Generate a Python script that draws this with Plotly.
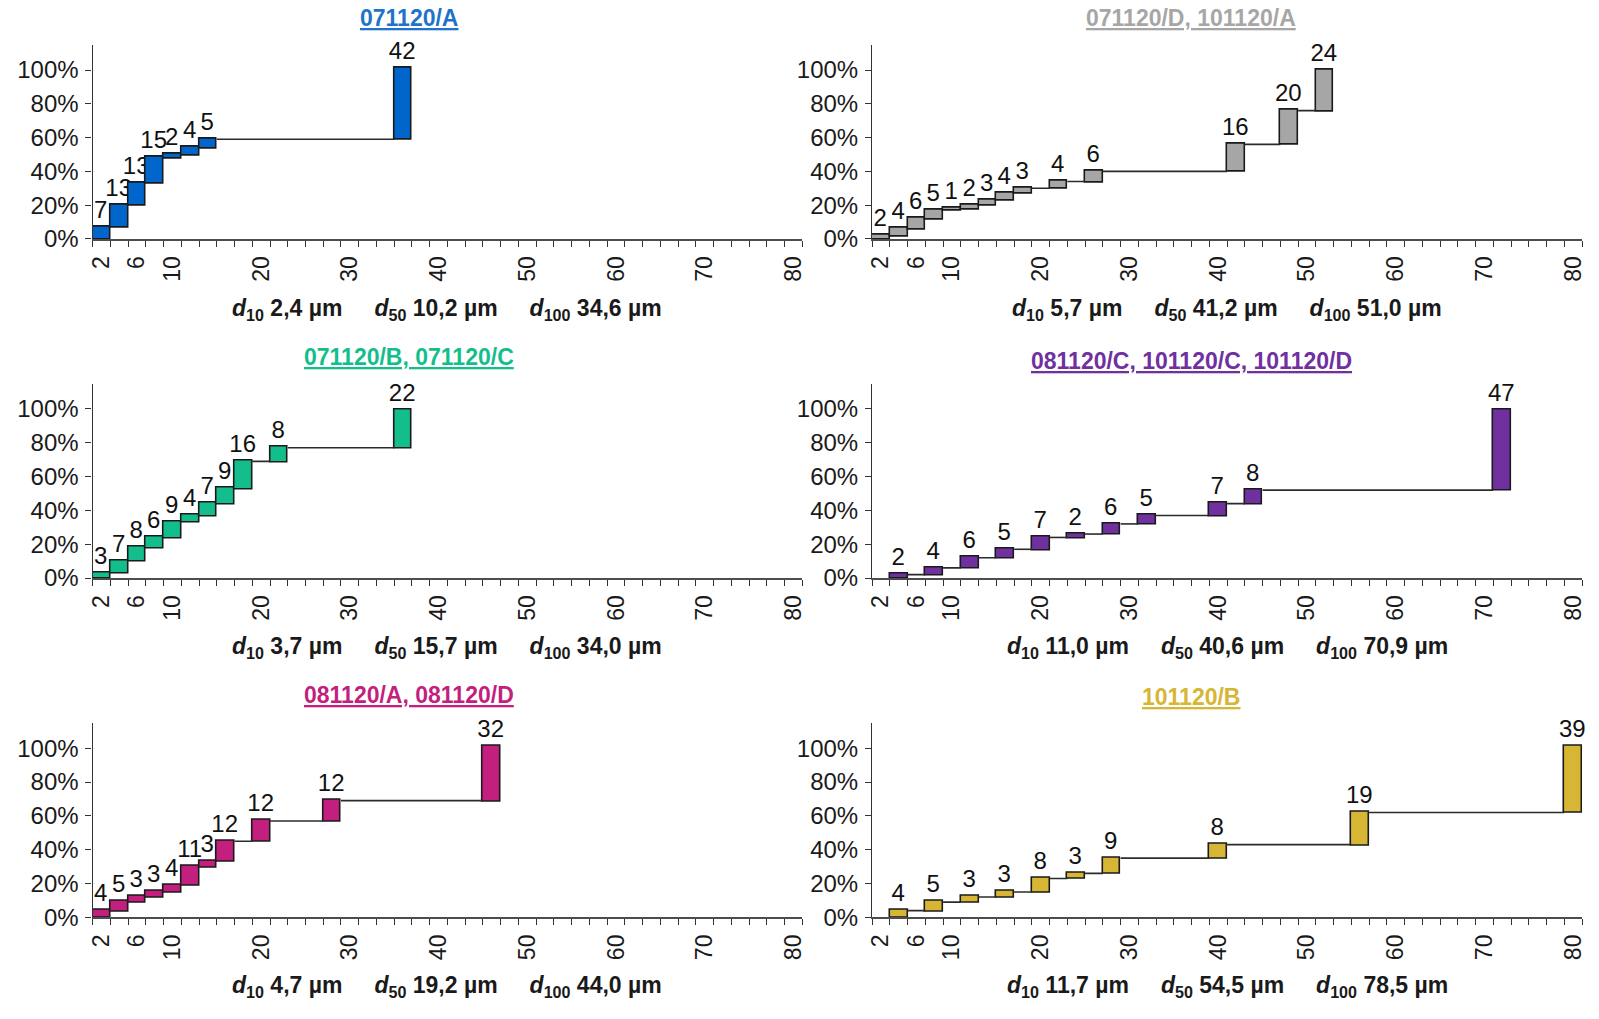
import plotly.graph_objects as go

FONT = "Liberation Sans, Arial, sans-serif"

# Particle size bins (µm, upper bound of each 2 µm class) and share of each bin (%)
bins_a = [2, 4, 6, 8, 10, 12, 14, 36]
pct_a = [7, 13, 13, 15, 2, 4, 5, 42]

bins_b = [2, 4, 6, 8, 10, 12, 14, 16, 18, 22, 26, 42, 48, 52]
pct_b = [2, 4, 6, 5, 1, 2, 3, 4, 3, 4, 6, 16, 20, 24]

bins_c = [2, 4, 6, 8, 10, 12, 14, 16, 18, 22, 36]
pct_c = [3, 7, 8, 6, 9, 4, 7, 9, 16, 8, 22]

bins_d = [4, 8, 12, 16, 20, 24, 28, 32, 40, 44, 72]
pct_d = [2, 4, 6, 5, 7, 2, 6, 5, 7, 8, 47]

bins_e = [2, 4, 6, 8, 10, 12, 14, 16, 20, 28, 46]
pct_e = [4, 5, 3, 3, 4, 11, 3, 12, 12, 12, 32]

bins_f = [4, 8, 12, 16, 20, 24, 28, 40, 56, 80]
pct_f = [4, 5, 3, 3, 8, 3, 9, 8, 19, 39]

titles = ["071120/A", "071120/D, 101120/A", "071120/B, 071120/C",
          "081120/C, 101120/C, 101120/D", "081120/A, 081120/D", "101120/B"]
colors = ["#0066CC", "#A6A6A6", "#14BE8C", "#7030A0", "#C21F7F", "#D6B634"]
title_colors = ["#1F73C8", "#A6A6A6", "#14BE8C", "#7030A0", "#C21F7F", "#D6B634"]

d10 = ["2,4", "5,7", "3,7", "11,0", "4,7", "11,7"]
d50 = ["10,2", "41,2", "15,7", "40,6", "19,2", "54,5"]
d100 = ["34,6", "51,0", "34,0", "70,9", "44,0", "78,5"]

x_tick_vals = [2, 6, 10, 20, 30, 40, 50, 60, 70, 80]
y_tick_vals = [0, 20, 40, 60, 80, 100]
y_tick_text = [f"{v}%" for v in y_tick_vals]

panels = [(bins_a, pct_a), (bins_b, pct_b), (bins_c, pct_c),
          (bins_d, pct_d), (bins_e, pct_e), (bins_f, pct_f)]

W, H = 1599, 1019
x_domains = [[88 / W, 802 / W], [872 / W, 1586 / W]]
y_domains = [[1 - 242 / H, 1 - 45.3 / H],
             [1 - 585.5 / H, 1 - 388.5 / H],
             [1 - 929.2 / H, 1 - 732.2 / H]]
title_y = [(18.5, 18.5), (362, 366), (704, 706)]
note_y = [313, 656, 999.5]
title_x = [406, 1193]

fig = go.Figure()
annotations = []
layout = dict()

for i, (bins, pct) in enumerate(panels):
    row, col = divmod(i, 2)
    n = i + 1
    xa = "x" if n == 1 else f"x{n}"
    ya = "y" if n == 1 else f"y{n}"

    fig.add_trace(go.Waterfall(
        x=bins,
        y=pct,
        measure=["relative"] * len(pct),
        width=[2] * len(pct),
        text=[str(v) for v in pct],
        textinfo="text",
        textposition="outside",
        constraintext="none",
        cliponaxis=False,
        textfont=dict(family=FONT, size=24, color="#111111"),
        increasing=dict(marker=dict(color=colors[i],
                                    line=dict(color="#1A1A1A", width=1.6))),
        connector=dict(mode="between", line=dict(color="#2B2B2B", width=1.6)),
        hoverinfo="skip",
        xaxis=xa,
        yaxis=ya,
        showlegend=False,
    ))

    layout["xaxis" if n == 1 else f"xaxis{n}"] = dict(
        domain=x_domains[col],
        anchor=ya,
        range=[1, 81],
        tickmode="array",
        tickvals=x_tick_vals,
        ticktext=[str(v) for v in x_tick_vals],
        tickangle=-90,
        ticks="",
        ticklabelstandoff=6,
        showgrid=False,
        zeroline=False,
        showline=True,
        linecolor="#4D4D4D",
        linewidth=2,
        tickfont=dict(family=FONT, size=23, color="#1A1A1A"),
        minor=dict(tick0=1, dtick=2, ticks="outside", ticklen=6,
                   tickcolor="#333333", tickwidth=1.2, showgrid=False),
        fixedrange=True,
    )
    layout["yaxis" if n == 1 else f"yaxis{n}"] = dict(
        domain=y_domains[row],
        anchor=xa,
        range=[0, 115],
        tickmode="array",
        tickvals=y_tick_vals,
        ticktext=y_tick_text,
        ticks="outside",
        ticklen=6,
        tickcolor="#333333",
        tickwidth=1.2,
        ticklabelstandoff=2,
        showgrid=False,
        zeroline=False,
        showline=True,
        linecolor="#333333",
        linewidth=1.2,
        tickfont=dict(family=FONT, size=24, color="#1A1A1A"),
        fixedrange=True,
    )

    annotations.append(dict(
        xref="paper", yref="paper",
        x=title_x[col] / W, y=1 - title_y[row][col] / H,
        xanchor="center", yanchor="middle",
        text=f"<b><u>{titles[i]}</u></b>",
        showarrow=False,
        font=dict(family=FONT, size=23, color=title_colors[i]),
    ))

    gap = "\u00a0" * 5
    note = (f"<b><i>d</i><sub>10</sub> {d10[i]} µm{gap}"
            f"<i>d</i><sub>50</sub> {d50[i]} µm{gap}"
            f"<i>d</i><sub>100</sub> {d100[i]} µm</b>")
    annotations.append(dict(
        xref="paper", yref="paper",
        x=sum(x_domains[col]) / 2, y=1 - note_y[row] / H,
        xanchor="center", yanchor="middle",
        text=note,
        showarrow=False,
        font=dict(family=FONT, size=23, color="#1A1A1A"),
    ))

fig.update_layout(
    width=W,
    height=H,
    margin=dict(l=0, r=0, t=0, b=0),
    paper_bgcolor="white",
    plot_bgcolor="white",
    waterfallgap=0,
    showlegend=False,
    annotations=annotations,
    font=dict(family=FONT, color="#1A1A1A"),
    **layout,
)

fig.write_html("out.html")
